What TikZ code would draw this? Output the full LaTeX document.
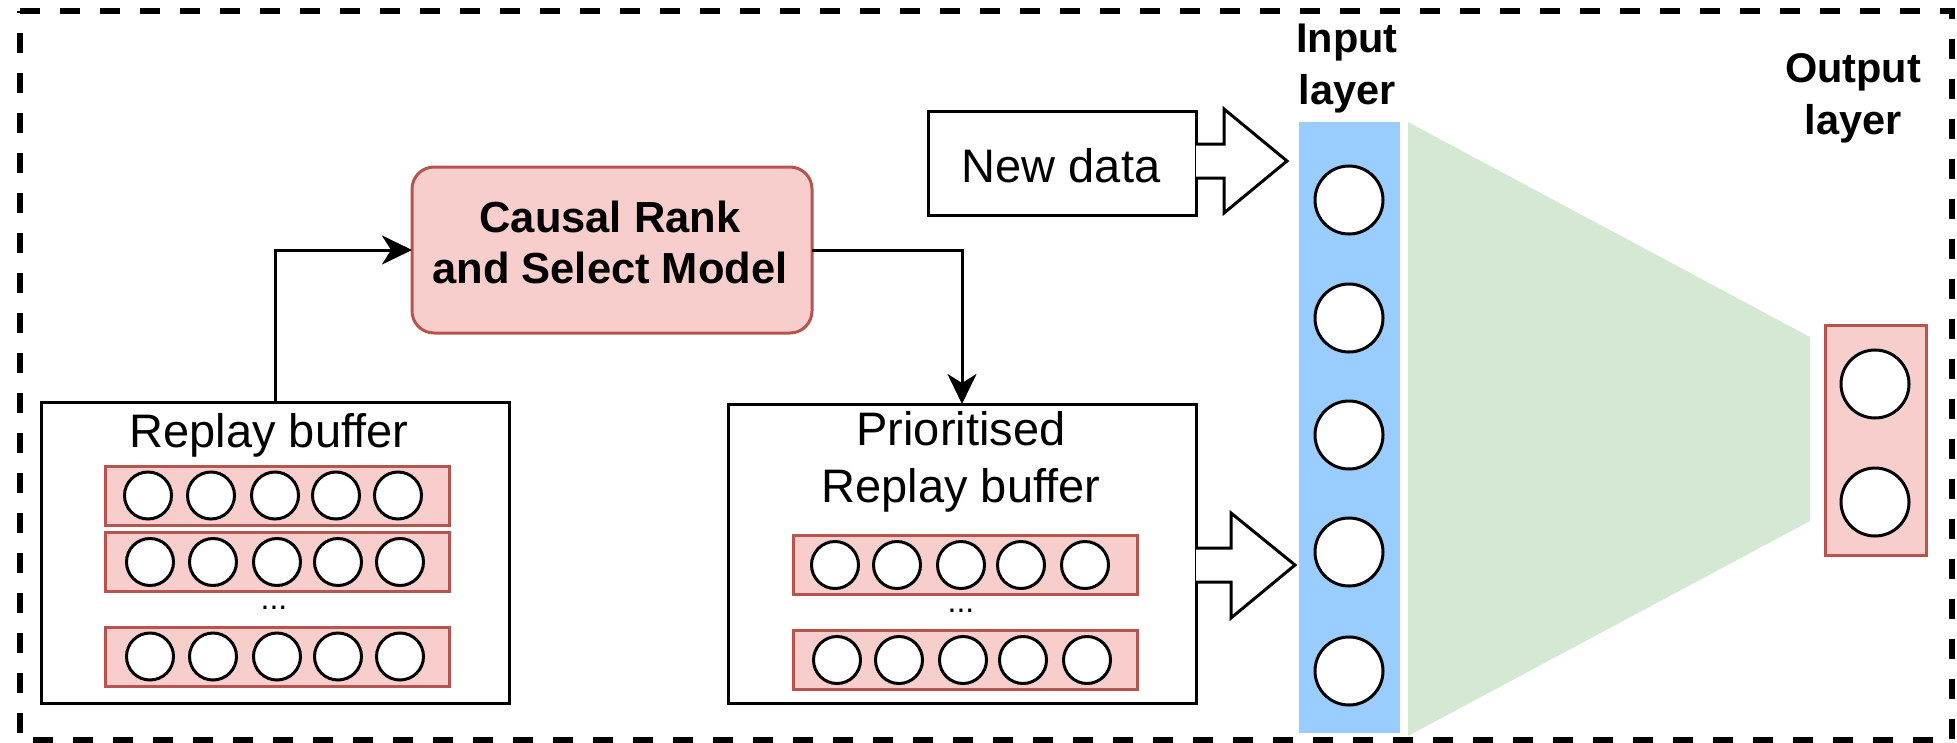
\documentclass[tikz,border=0pt]{standalone}
\usepackage{fontspec}
\setmainfont{Liberation Sans}
\usetikzlibrary{arrows.meta,calc}

\definecolor{redfill}{HTML}{F8CECC}
\definecolor{redline}{HTML}{B85450}
\definecolor{bluefill}{HTML}{99CCFF}
\definecolor{greenfill}{HTML}{D5E8D4}

\newcommand{\regfont}{\fontsize{47}{57}\selectfont}
\newcommand{\dotsfont}{\fontsize{32}{38}\selectfont}
\newcommand{\titlefont}{\fontsize{43.5}{51}\selectfont\bfseries}
\newcommand{\layerfont}{\fontsize{41.5}{52}\selectfont\bfseries}
\newcommand{\twolines}[2]{\begin{tabular}[t]{@{}c@{}}#1\\#2\end{tabular}}

\tikzset{
  frame/.style={line width=6pt, dash pattern=on 20pt off 20pt},
  panel/.style={draw=black, line width=3pt, fill=white, inner sep=0pt, outer sep=0pt},
  modelbox/.style={draw=redline, fill=redfill, line width=3pt, rounded corners=22pt,
    inner sep=0pt, outer sep=0pt, minimum width=400pt, minimum height=166pt},
  samplerow/.style={draw=redline, fill=redfill, line width=3pt, inner sep=0pt,
    outer sep=0pt, minimum width=344pt, minimum height=59pt},
  unit/.style={circle, draw=black, line width=3pt, fill=white, inner sep=0pt, minimum size=47pt},
  neuron/.style={circle, draw=black, line width=3pt, fill=white, inner sep=0pt, minimum size=68pt},
  label/.style={inner sep=0pt, anchor=base},
  link/.style={line width=3pt, -{Stealth[length=30pt, width=29pt, inset=9pt]}},
  hollow/.style={draw=black, line width=3pt, fill=white, line join=miter},
}

\begin{document}
\begin{tikzpicture}[x=1pt, y=-1pt]
\useasboundingbox (0,0) rectangle (1957,742);

% outer dashed frame
\draw[frame] (20,11) -- (1952,11) -- (1952,740) -- (20,740) -- cycle;

% causal rank and select model
\node[modelbox] (crs) at (612,250) {};
\node[label, font=\titlefont] (crs-t) at (610,232) {\twolines{Causal Rank}{and Select Model}};

% replay buffer
\node[panel, minimum width=468pt, minimum height=301pt] (rb) at (275,552.5) {};
\node[label, font=\regfont] (rb-t) at (269,447) {Replay buffer};
\foreach \r/\cy/\dx in {1/495.5/0, 2/562/2, 3/656.5/2} {
  \node[samplerow] (rb-row\r) at (277.5,\cy) {};
  \foreach \cx [count=\i] in {148,211,275,336,398}
    \node[unit] (rb-u\r-\i) at (\cx+\dx,\cy) {};
}
\node[label, font=\dotsfont] (rb-dots) at (274,609) {...};

% prioritised replay buffer
\node[panel, minimum width=468pt, minimum height=299pt] (pri) at (962,553.5) {};
\node[label, font=\regfont] (pri-t) at (961,445) {\twolines{Prioritised}{Replay buffer}};
\foreach \r/\cy/\dx in {1/565/0, 2/660/2} {
  \node[samplerow] (pri-row\r) at (965,\cy) {};
  \foreach \cx [count=\i] in {835,897,961,1021,1085}
    \node[unit] (pri-u\r-\i) at (\cx+\dx,\cy) {};
}
\node[label, font=\dotsfont] (pri-dots) at (961,612) {...};

% new data
\node[panel, minimum width=268pt, minimum height=104pt] (nd) at (1062,163) {};
\node[label, font=\regfont] (nd-t) at (1061,182) {New data};

% connectors
\draw[link] (rb.north) |- (crs.west);
\draw[link] (crs.east) -| (pri.north);

% hollow feed arrows into the input layer
\draw[hollow] (1196,144) -- (1224,144) -- (1224,109) -- (1287,161) -- (1224,213)
  -- (1224,178) -- (1196,178);
\draw[hollow] (1196,548) -- (1231,548) -- (1231,513) -- (1295,565) -- (1231,618)
  -- (1231,582) -- (1196,582);

% network body
\fill[greenfill] (1408,122) -- (1810,337) -- (1810,521) -- (1408,736) -- cycle;

% input layer
\node[fill=bluefill, inner sep=0pt, outer sep=0pt, minimum width=101pt, minimum height=611pt]
  (inl) at (1349.5,427.5) {};
\foreach \cy [count=\i] in {200,318,435,552,671}
  \node[neuron] (in-\i) at (1349,\cy) {};
\node[label, font=\layerfont] (inl-t) at (1347,52) {\twolines{Input}{layer}};

% output layer
\node[draw=redline, fill=redfill, line width=3pt, inner sep=0pt, outer sep=0pt,
  minimum width=101pt, minimum height=230pt] (outl) at (1875.5,440) {};
\foreach \cy [count=\i] in {384,502}
  \node[neuron] (out-\i) at (1875,\cy) {};
\node[label, font=\layerfont] (outl-t) at (1853,82) {\twolines{Output}{layer}};
\end{tikzpicture}
\end{document}
